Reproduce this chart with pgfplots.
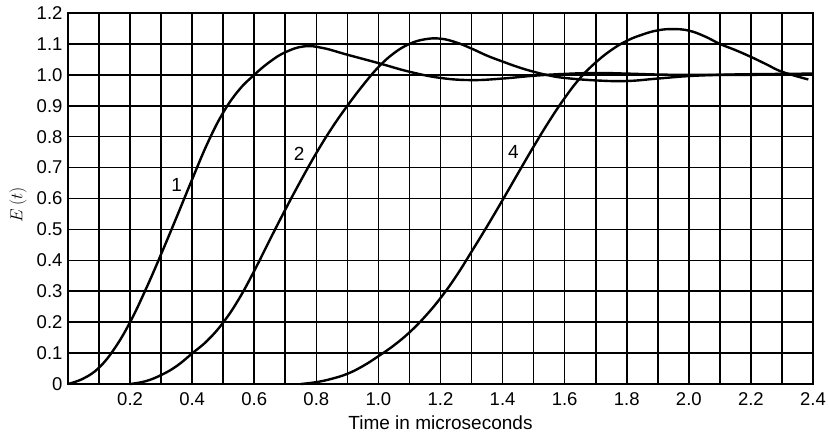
\documentclass[border=0pt]{standalone}
\usepackage{pgfplots}
\pgfplotsset{compat=1.18}
\usepackage{fontspec}
\setmainfont{Liberation Sans}
\begin{document}
\begin{tikzpicture}[x=1pt,y=1pt]
\useasboundingbox (-68,-56) rectangle (761,384);
\begin{axis}[at={(0,0)}, anchor=south west,
  width=745pt, height=371pt, scale only axis,
  xmin=0, xmax=2.4, ymin=0, ymax=1.2,
  xtick={0,0.1,0.2,0.3,0.4,0.5,0.6,0.7,0.8,0.9,1.0,1.1,1.2,1.3,1.4,1.5,1.6,1.7,1.8,1.9,2.0,2.1,2.2,2.3,2.4},
  xticklabels={,,0.2,,0.4,,0.6,,0.8,,1.0,,1.2,,1.4,,1.6,,1.8,,2.0,,2.2,,2.4},
  ytick={0,0.1,0.2,0.3,0.4,0.5,0.6,0.7,0.8,0.9,1.0,1.1,1.2},
  yticklabels={0,0.1,0.2,0.3,0.4,0.5,0.6,0.7,0.8,0.9,1.0,1.1,1.2},
  major tick length=0pt,
  grid=major,
  major grid style={black, line width=1.6pt},
  axis line style={black, line width=1.6pt},
  ticklabel style={font=\fontsize{18.5}{18.5}\selectfont},
  xticklabel style={yshift=-5pt},
  yticklabel style={xshift=-2pt},
  xlabel={Time in microseconds},
  xlabel style={font=\fontsize{19}{19}\selectfont, at={(axis description cs:0.5,0)}, anchor=center, yshift=-39pt},
  ylabel={$E\,(t)$},
  ylabel style={font=\fontsize{18}{18}\selectfont, at={(axis description cs:-0.067,0.483)}, anchor=center},
  clip=false,
]
\addplot[black, line width=2.4pt, smooth, tension=0.7] coordinates {
(0,0) (0.05,0.018) (0.1,0.053) (0.15,0.115) (0.2,0.2) (0.25,0.305) (0.3,0.42)
(0.35,0.54) (0.4,0.662) (0.45,0.78) (0.5,0.878) (0.55,0.95) (0.6,1.0)
(0.65,1.042) (0.7,1.073) (0.76,1.092) (0.82,1.087) (0.9,1.065) (1.0,1.038)
(1.1,1.01) (1.2,0.99) (1.3,0.983) (1.4,0.988) (1.5,0.997) (1.6,1.003)
(1.7,1.006) (1.8,1.004) (1.9,1.001) (2.0,1.0) (2.2,1.0) (2.4,1.002)};
\addplot[black, line width=2.4pt, smooth, tension=0.7] coordinates {
(0.2,0) (0.25,0.009) (0.3,0.029) (0.35,0.058) (0.4,0.099) (0.45,0.1415)
(0.5,0.199) (0.55,0.274) (0.6,0.366) (0.65,0.466) (0.7,0.564) (0.75,0.658)
(0.8,0.747) (0.85,0.828) (0.9,0.9) (0.95,0.966) (1.0,1.025) (1.05,1.07)
(1.1,1.10) (1.15,1.115) (1.2,1.117) (1.25,1.105) (1.3,1.085) (1.35,1.062)
(1.4,1.043) (1.45,1.025) (1.5,1.01) (1.55,0.998) (1.6,0.99) (1.7,0.982)
(1.8,0.98) (1.9,0.988) (2.0,0.996) (2.1,1.0) (2.2,1.002) (2.4,1.004)};
\addplot[black, line width=2.4pt, smooth, tension=0.7] coordinates {
(0.75,0) (0.8,0.006) (0.85,0.017) (0.9,0.033) (0.95,0.058) (1.0,0.09)
(1.05,0.125) (1.1,0.167) (1.15,0.218) (1.2,0.278) (1.25,0.348) (1.3,0.428)
(1.35,0.51) (1.4,0.595) (1.45,0.682) (1.5,0.768) (1.55,0.85) (1.6,0.925)
(1.65,0.99) (1.7,1.04) (1.75,1.08) (1.8,1.11) (1.85,1.13) (1.9,1.144)
(1.95,1.148) (2.0,1.143) (2.05,1.125) (2.1,1.10) (2.15,1.08) (2.2,1.058)
(2.25,1.034) (2.3,1.01) (2.385,0.985)};
\node[font=\fontsize{19}{19}\selectfont] at (axis cs:0.35,0.645) {1};
\node[font=\fontsize{19}{19}\selectfont] at (axis cs:0.745,0.745) {2};
\node[font=\fontsize{19}{19}\selectfont] at (axis cs:1.435,0.75) {4};
\end{axis}
\end{tikzpicture}
\end{document}
